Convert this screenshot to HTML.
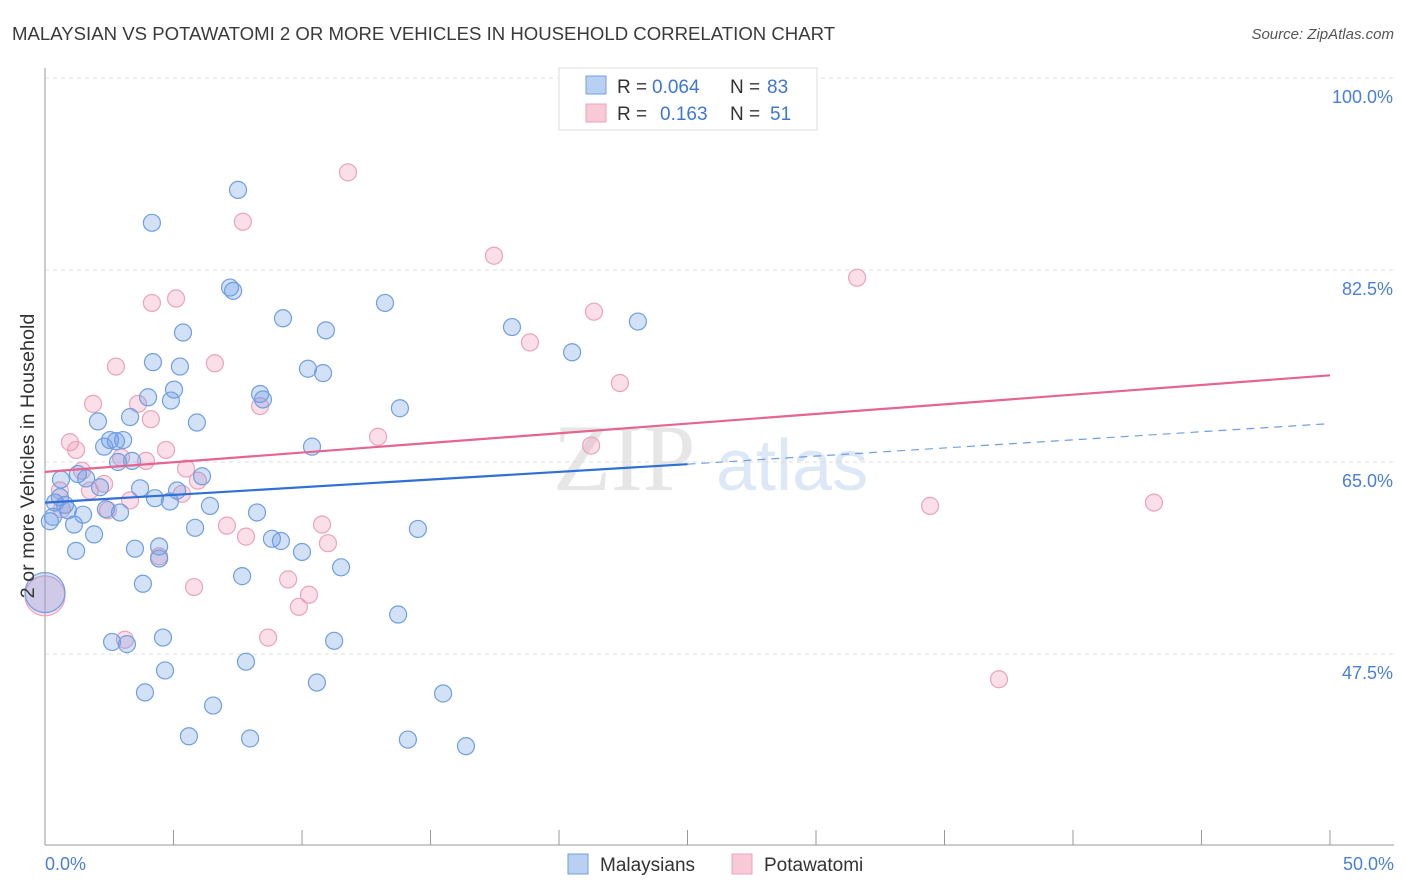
<!DOCTYPE html>
<html><head><meta charset="utf-8"><style>
body{margin:0;background:#fff;font-family:"Liberation Sans",sans-serif}
svg{display:block}
</style></head><body>
<svg id="chart" width="1406" height="892" xmlns="http://www.w3.org/2000/svg">
<text x="12" y="40" font-size="18.6" fill="#3a3a3a">MALAYSIAN VS POTAWATOMI 2 OR MORE VEHICLES IN HOUSEHOLD CORRELATION CHART</text>
<text x="1394" y="39" font-size="15" fill="#555" font-style="italic" text-anchor="end">Source: ZipAtlas.com</text>
<text x="553" y="490" font-size="95" fill="#e6e6e6" font-family="Liberation Serif,serif">ZIP</text>
<text x="716" y="490" font-size="72" fill="#dde8f6">atlas</text>
<g id="grid"></g><g id="axes"></g><g id="pts"></g><g id="lines"></g>
<text transform="translate(34,456) rotate(-90)" font-size="19.8" fill="#333" text-anchor="middle">2 or more Vehicles in Household</text>
<g>
<rect x="559" y="68" width="258" height="62" fill="#fff" stroke="#ddd"/>
<rect x="586" y="76" width="20" height="18" fill="#b9d0f3" stroke="#6f9fe2"/>
<rect x="586" y="104" width="20" height="18" fill="#f8c9d7" stroke="#eba3ba"/>
<text x="617" y="93" font-size="19" fill="#333">R = <tspan fill="#3f76d2" x="652">0.064</tspan><tspan x="730">N = </tspan><tspan fill="#3f76d2" x="767">83</tspan></text>
<text x="617" y="120" font-size="19" fill="#333">R = <tspan fill="#3f76d2" x="660">0.163</tspan><tspan x="730">N = </tspan><tspan fill="#3f76d2" x="770">51</tspan></text>
</g>
<g>
<rect x="568" y="854" width="20" height="20" fill="#b9d0f3" stroke="#6f9fe2"/>
<text x="600" y="871" font-size="19" fill="#333">Malaysians</text>
<rect x="732" y="854" width="20" height="20" fill="#f8c9d7" stroke="#eba3ba"/>
<text x="764" y="871" font-size="19" fill="#333">Potawatomi</text>
</g>
</svg>
<script>
const yTicks=[47.5,65.0,82.5,100.0];
const xTickLabels=["0.0%","50.0%"];
const blueX=[4.16,7.51,7.32,7.20,9.26,13.23,10.93,5.37,4.20,5.25,10.23,10.82,5.02,4.90,4.01,8.37,8.48,3.31,2.06,5.91,13.81,18.17,20.51,23.07,2.53,3.04,2.76,2.30,10.39,3.39,2.84,1.60,0.62,1.28,6.11,2.14,3.70,5.14,4.28,4.86,0.58,0.39,0.78,0.89,2.37,2.92,1.48,0.31,0.19,1.13,6.42,8.25,5.84,1.91,14.51,8.83,9.18,3.50,4.44,1.21,10.0,4.44,11.52,7.67,3.81,13.74,2.61,3.19,4.59,11.25,7.82,4.67,10.58,3.89,15.49,6.54,5.60,7.98,14.12,16.38];
const blueY=[86.8,89.8,80.6,80.9,78.1,79.5,77.0,76.8,74.1,73.7,73.5,73.1,71.6,70.6,70.9,71.2,70.7,69.1,68.7,68.6,69.9,77.3,75.0,77.8,67.0,67.0,66.9,66.4,66.4,65.1,65.0,63.5,63.4,63.9,63.7,62.7,62.6,62.4,61.7,61.4,61.8,61.3,61.1,60.6,60.7,60.4,60.2,60.0,59.6,59.3,61.0,60.4,59.0,58.4,58.9,58.0,57.8,57.1,57.3,56.9,56.8,56.2,55.4,54.6,53.9,51.1,48.6,48.4,49.0,48.7,46.8,46.0,44.9,44.0,43.9,42.8,40.0,39.8,39.7,39.1];
const pinkX=[25.45,11.79,7.70,17.47,31.60,5.10,4.16,21.36,18.87,2.76,6.61,22.37,1.87,3.62,8.37,4.12,0.97,1.21,12.96,21.25,4.71,3.93,2.96,5.49,1.44,2.30,0.58,1.75,5.95,5.33,3.31,0.66,2.45,7.08,10.78,7.82,11.01,4.44,9.46,5.80,10.27,9.88,8.68,3.11,34.44,43.15,37.12];
const pinkY=[99.8,91.4,86.9,83.8,81.8,79.9,79.5,78.7,75.9,73.7,74.0,72.2,70.3,70.3,70.1,68.9,66.8,66.1,67.3,66.5,66.1,65.1,65.4,64.4,64.2,63.0,62.4,62.4,63.3,62.1,61.5,60.7,60.6,59.2,59.3,58.2,57.6,56.4,54.3,53.6,52.9,51.8,49.0,48.8,61.0,61.3,45.2];
const bigBlue=[0,53.1], bigPink=[0,52.8];
const blueTrend=[61.3,64.8,68.5]; // at x=0,25,50
const pinkTrend=[64.1,72.9];      // at x=0,50
const NS="http://www.w3.org/2000/svg";
const sx=v=>45+v/50*1285, sy=v=>78+(100-v)/17.5*192;
function mk(tag,attrs,parent){const e=document.createElementNS(NS,tag);for(const k in attrs)e.setAttribute(k,attrs[k]);document.getElementById(parent).appendChild(e);return e;}
yTicks.forEach(t=>{
 const g=mk('line',{x1:45,x2:1394,y1:sy(t),y2:sy(t),stroke:'#ddd','stroke-dasharray':'4,4'},'grid');
 
 
 const l=mk('text',{x:1393,y:sy(t)+25,'font-size':18,fill:'#4a7fd6','text-anchor':'end'},'grid');
 l.textContent=t.toFixed(1)+'%';
 
 
});
const ax=mk('line',{x1:45,x2:45,y1:68,y2:845,stroke:'#999'},'axes');


const bx=mk('line',{x1:45,x2:1394,y1:845,y2:845,stroke:'#999'},'axes');


for(let i=0;i<=10;i++){const t=mk('line',{x1:sx(i*5),x2:sx(i*5),y1:830,y2:845,stroke:'#999'},'axes');
 
 }
[[0,'start',45],[1,'end',1394]].forEach(([i,a,x])=>{const t=mk('text',{x:x,y:870,'font-size':18,fill:'#4a7fd6','text-anchor':a},'axes');t.textContent=xTickLabels[i];
 
 });
function dot(x,y,r,c){const f=c==='b'?'rgba(110,155,230,0.3)':'rgba(240,150,180,0.3)',s=c==='b'?'#6f9fe2':'#eba3ba';
 const e=mk('circle',{cx:sx(x),cy:sy(y),r:r,fill:f,stroke:s,'stroke-width':1.2},'pts');
 
 }
pinkX.forEach((x,i)=>dot(x,pinkY[i],8.5,'p'));
blueX.forEach((x,i)=>dot(x,blueY[i],8.5,'b'));
dot(bigPink[0],bigPink[1],20,'p');dot(bigBlue[0],bigBlue[1],20,'b');
const b1=mk('line',{x1:sx(0),y1:sy(blueTrend[0]),x2:sx(25),y2:sy(blueTrend[1]),stroke:'#2f6fd6','stroke-width':2.2},'lines');


const b2=mk('line',{x1:sx(25),y1:sy(blueTrend[1]),x2:sx(50),y2:sy(blueTrend[2]),stroke:'#6f9fe2','stroke-width':1.2,'stroke-dasharray':'8,6'},'lines');


const p1=mk('line',{x1:sx(0),y1:sy(pinkTrend[0]),x2:sx(50),y2:sy(pinkTrend[1]),stroke:'#e4658f','stroke-width':2.2},'lines');


</script>
</body></html>
